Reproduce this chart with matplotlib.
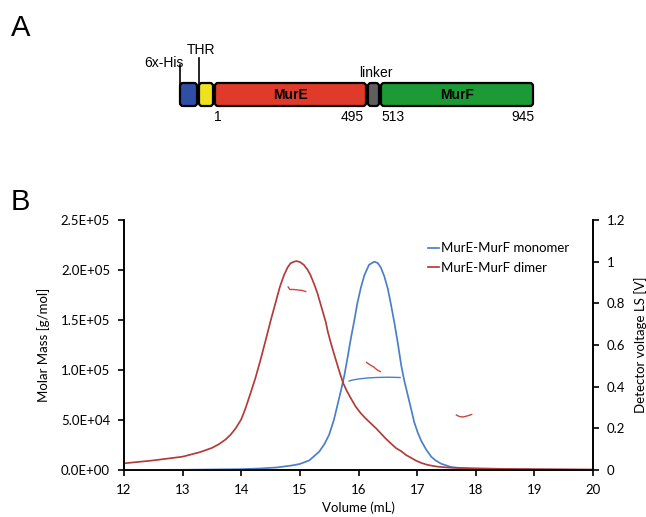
import matplotlib
matplotlib.use("Agg")
import matplotlib.pyplot as plt
from matplotlib.patches import FancyBboxPatch

# ---------------- data ----------------
vol_dimer = [12.0, 12.5, 13.0, 13.3, 13.5, 13.62, 13.73, 13.82, 13.90, 14.0, 14.07, 14.16, 14.24, 14.33,
             14.41, 14.50, 14.59, 14.66, 14.73, 14.79, 14.84, 14.90, 14.945, 15.01, 15.07,
             15.13, 15.18, 15.24, 15.30, 15.37, 15.44, 15.48, 15.53, 15.58, 15.64, 15.69,
             15.74, 15.80, 15.87, 15.95, 16.04, 16.12, 16.21, 16.30, 16.38, 16.46, 16.55,
             16.64, 16.73, 16.81, 16.90, 16.98, 17.07, 17.16, 17.24, 17.35, 17.47, 17.58,
             17.8, 18.0, 18.5, 19.0, 19.5, 20.0]
ls_dimer = [0.032, 0.046, 0.064, 0.086, 0.106, 0.124, 0.146, 0.17, 0.198, 0.243, 0.294, 0.37, 0.44, 0.53,
            0.616, 0.715, 0.808, 0.88, 0.936, 0.972, 0.992, 1.0, 1.003, 0.997, 0.984,
            0.962, 0.936, 0.895, 0.848, 0.78, 0.712, 0.66, 0.608, 0.56, 0.504, 0.458,
            0.416, 0.38, 0.344, 0.305, 0.272, 0.248, 0.224, 0.20, 0.176, 0.152, 0.128,
            0.105, 0.09, 0.072, 0.058, 0.045, 0.034, 0.026, 0.021, 0.016, 0.013, 0.011,
            0.009, 0.008, 0.005, 0.004, 0.003, 0.002]

vol_monomer = [12.0, 13.0, 14.0, 14.3, 14.6, 14.87, 15.0, 15.16, 15.33, 15.42, 15.50, 15.58,
               15.64, 15.70, 15.76, 15.82, 15.87, 15.93, 15.98, 16.04, 16.10, 16.18, 16.27,
               16.33, 16.38, 16.44, 16.50, 16.55, 16.61, 16.67, 16.73, 16.78, 16.84, 16.90,
               16.95, 17.01, 17.07, 17.15, 17.24, 17.32, 17.41, 17.58, 17.75, 18.0, 18.5,
               19.0, 20.0]
ls_monomer = [0.0, 0.001, 0.004, 0.007, 0.012, 0.022, 0.029, 0.046, 0.088, 0.125, 0.17, 0.24,
              0.31, 0.38, 0.456, 0.55, 0.632, 0.72, 0.80, 0.875, 0.935, 0.985, 1.0,
              0.993, 0.972, 0.93, 0.87, 0.80, 0.71, 0.61, 0.50, 0.43, 0.36, 0.29,
              0.23, 0.18, 0.14, 0.10, 0.064, 0.045, 0.03, 0.014, 0.009, 0.005, 0.003,
              0.002, 0.001]

# molar mass segments (left axis)
mm_dimer_vol = [[14.80, 14.83, 14.90, 14.97, 15.04, 15.10],
                [16.14, 16.20, 16.26, 16.32, 16.37],
                [17.67, 17.72, 17.78, 17.85, 17.93]]
mm_dimer_val = [[1.83e5, 1.805e5, 1.805e5, 1.80e5, 1.795e5, 1.785e5],
                [1.075e5, 1.05e5, 1.03e5, 1.0e5, 0.985e5],
                [5.5e4, 5.35e4, 5.3e4, 5.4e4, 5.55e4]]
mm_mono_vol = [15.84, 15.90, 16.00, 16.15, 16.30, 16.50, 16.71]
mm_mono_val = [8.9e4, 9.0e4, 9.1e4, 9.2e4, 9.25e4, 9.28e4, 9.25e4]

series_labels = ["MurE-MurF monomer", "MurE-MurF dimer"]
x_ticks = [12, 13, 14, 15, 16, 17, 18, 19, 20]
left_ticks = [0, 5e4, 1e5, 1.5e5, 2e5, 2.5e5]
left_labels = ["0.0E+00", "5.0E+04", "1.0E+05", "1.5E+05", "2.0E+05", "2.5E+05"]
right_ticks = [0, 0.2, 0.4, 0.6, 0.8, 1.0, 1.2]
right_labels = ["0", "0.2", "0.4", "0.6", "0.8", "1", "1.2"]

domain_names = ["", "", "MurE", "", "MurF"]
domain_colors = ["#2f4ea6", "#ece21e", "#e03a2a", "#5e5e5e", "#1b9a35"]
residue_labels = ["1", "495", "513", "945"]
tag_labels = ["6x-His", "THR", "linker"]

# ---------------- figure ----------------
W, H = 646, 517
fig = plt.figure(figsize=(W / 100, H / 100), dpi=100)
plt.rcParams['font.family'] = ['Lato', 'DejaVu Sans']

# overlay for panel A and letters
ov = fig.add_axes([0, 0, 1, 1])
ov.set_xlim(0, W)
ov.set_ylim(H, 0)
ov.axis('off')

sans = ['Liberation Sans', 'DejaVu Sans']
ov.text(11, 36, "A", fontsize=21, family=sans, ha='left', va='baseline')
ov.text(11, 210, "B", fontsize=21, family=sans, ha='left', va='baseline')

# domain boxes (pixel layout)
edges = [179, 198, 214, 367, 380, 534]
y0, y1 = 83, 106
for i in range(5):
    x0, x1 = edges[i], edges[i + 1]
    p = FancyBboxPatch((x0 + 1, y0), x1 - x0 - 2, y1 - y0,
                       boxstyle="round,pad=0,rounding_size=3",
                       facecolor=domain_colors[i], edgecolor='black', lw=1.6)
    ov.add_patch(p)
    if domain_names[i]:
        ov.text((x0 + x1) / 2, 95, domain_names[i], fontsize=10, fontweight='bold',
                family=sans, ha='center', va='center')

# tag lines
ov.plot([180, 180], [65, 84], color='black', lw=1.2)
ov.plot([198.5, 198.5], [58, 84], color='black', lw=1.2)
ov.text(164, 67, tag_labels[0], fontsize=10, family=sans, ha='center', va='baseline')
ov.text(201, 54, tag_labels[1], fontsize=10, family=sans, ha='center', va='baseline')
ov.text(376, 77, tag_labels[2], fontsize=10, family=sans, ha='center', va='baseline')
for x, s in zip([218, 352, 393, 523], residue_labels):
    ov.text(x, 121, s, fontsize=10, family=sans, ha='center', va='baseline')

# panel B
left, right, top, bottom = 124, 593, 220, 470
ax = fig.add_axes([left / W, (H - bottom) / H, (right - left) / W, (bottom - top) / H])
ax2 = ax.twinx()

blue = '#4a7fc9'
red = '#b23c3a'

for vv, mm in zip(mm_dimer_vol, mm_dimer_val):
    ax.plot(vv, mm, color='#d0453f', lw=1.0)
ax.plot(mm_mono_vol, mm_mono_val, color=blue, lw=1.0)

ax2.plot(vol_monomer, ls_monomer, color=blue, lw=1.25, label=series_labels[0])
ax2.plot(vol_dimer, ls_dimer, color=red, lw=1.25, label=series_labels[1])

ax.set_xlim(12, 20)
ax.set_ylim(0, 2.5e5)
ax2.set_ylim(0, 1.2)
ax.set_xticks(x_ticks)
ax.set_xticklabels([str(t) for t in x_ticks])
ax.set_yticks(left_ticks)
ax.set_yticklabels(left_labels)
ax2.set_yticks(right_ticks)
ax2.set_yticklabels(right_labels)

for a in (ax, ax2):
    a.spines['top'].set_visible(False)
    for s in a.spines.values():
        s.set_linewidth(1.2)
    a.tick_params(direction='out', length=4, width=1.2, labelsize=9.5, colors='black')
ax.tick_params(axis='y', pad=6)
ax2.tick_params(axis='y', pad=6)
ax.tick_params(axis='x', pad=6)

ax.set_xlabel("Volume (mL)", fontsize=9.5, labelpad=4)
ax.set_ylabel("Molar Mass [g/mol]", fontsize=9.5, labelpad=8)
ax2.set_ylabel("Detector voltage LS [V]", fontsize=9.5, labelpad=6)

leg = ax2.legend(loc='upper left', bbox_to_anchor=((423 - left) / (right - left), (470 - 237) / 250),
                 frameon=False, fontsize=9.5, handlelength=0.8, handletextpad=0.15,
                 labelspacing=0.55, borderaxespad=0)

fig.savefig("out.png", dpi=100)
